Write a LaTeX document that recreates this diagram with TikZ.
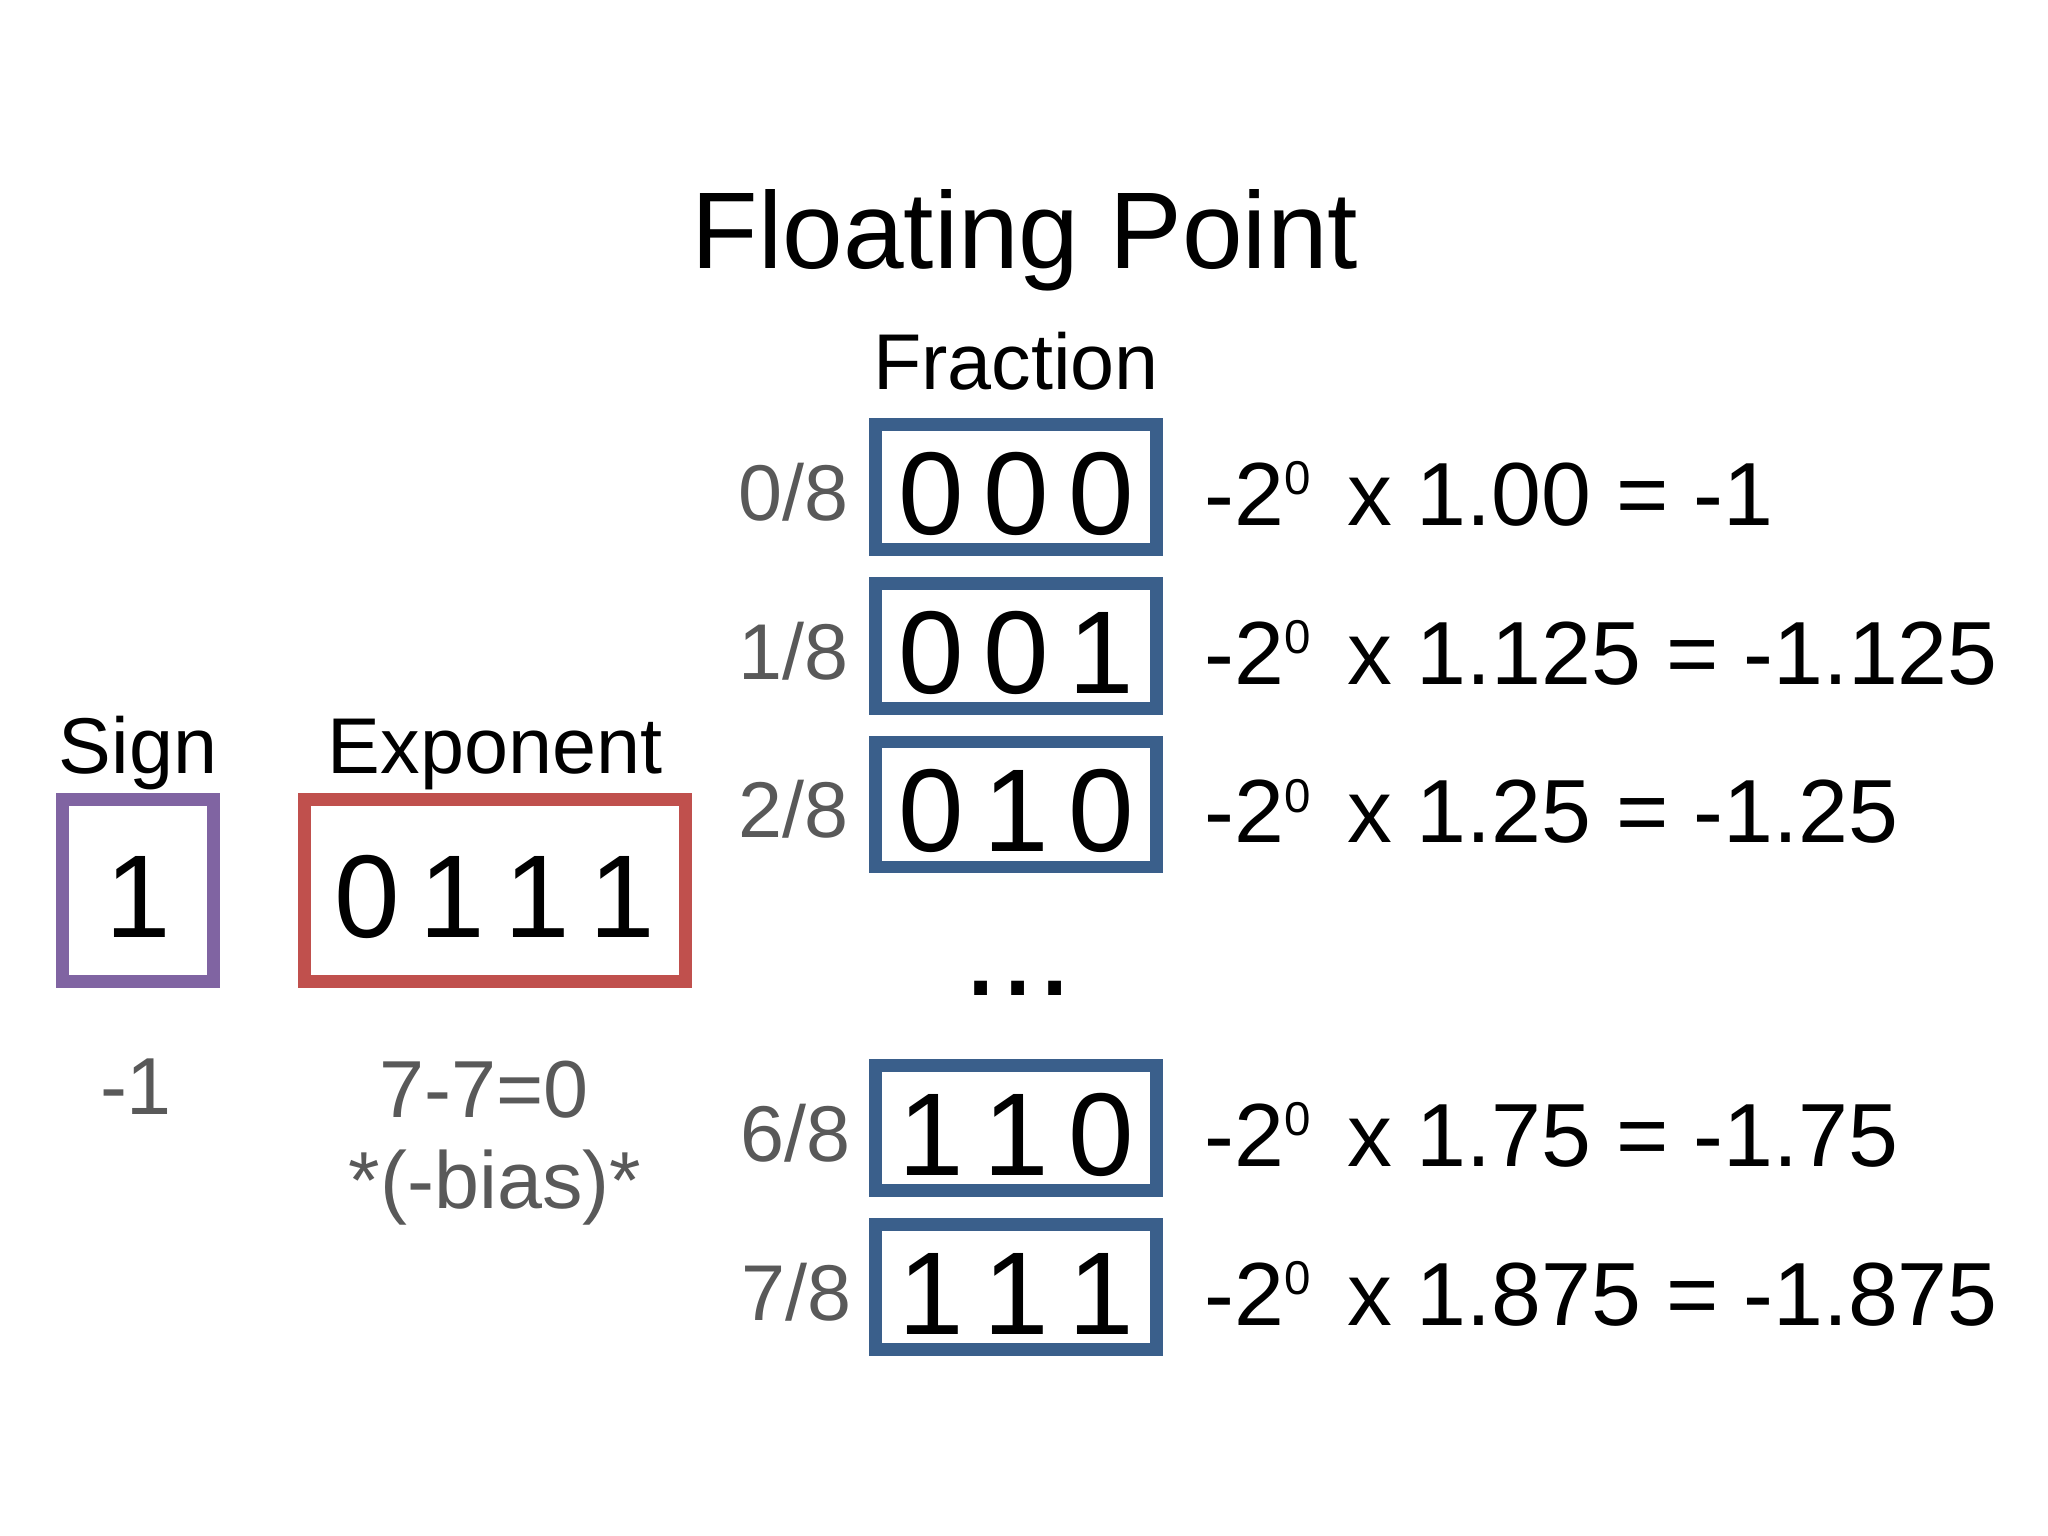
\documentclass[tikz,border=0pt]{standalone}
\usepackage{fontspec}
\setmainfont{Liberation Sans}
\definecolor{signpurple}{HTML}{8064A2}
\definecolor{expred}{HTML}{C0504D}
\definecolor{fracblue}{HTML}{3A5F8B}
\definecolor{valgray}{HTML}{595959}
\tikzset{
  bitbox/.style={draw, line width=3.6pt, inner sep=0pt, text height=26.8pt, text depth=0pt, font=\fontsize{33.5}{36}\selectfont},
  fracbox/.style={bitbox, draw=fracblue, minimum width=2.81cm, minimum height=1.25cm},
  headlabel/.style={anchor=base, font=\fontsize{22.5}{26}\selectfont},
  graylabel/.style={anchor=base, text=valgray, font=\fontsize{23}{27}\selectfont},
  fraclabel/.style={anchor=base east, text=valgray, font=\fontsize{22.5}{26}\selectfont},
  eqlabel/.style={anchor=base west, font=\fontsize{25.5}{30}\selectfont}
}
\newcommand{\supzero}{\raisebox{8.6pt}{\fontsize{13.5}{14}\selectfont 0}\hspace{3.3pt}}
\newcommand{\eqtext}[2]{-2\supzero{} x #1 = #2}
\newcommand{\bgap}{\hspace{5.5pt}}
\begin{document}
\begin{tikzpicture}[x=0.01cm,y=-0.01cm]
\useasboundingbox[fill=white] (0,0) rectangle (2048,1536);

\node[anchor=base, font=\fontsize{31}{36}\selectfont] (title) at (1025,268) {Floating Point};

% Sign and exponent
\node[headlabel] (signlbl) at (138,773) {Sign};
\node[headlabel] (explbl) at (495,773) {Exponent};
\node[bitbox, draw=signpurple, minimum width=1.51cm, minimum height=1.82cm] (signbox) at (138,890.5) {1};
\node[bitbox, draw=expred, minimum width=3.81cm, minimum height=1.82cm] (expbox) at (495,890.5) {0\bgap1\bgap1\bgap1};
\node[graylabel] (signval) at (136,1114) {-1};
\node[graylabel] (expval) at (484,1117) {7-7=0};
\node[graylabel] (biasval) at (495,1208) {*(-bias)*};

% Fraction
\node[headlabel] (fraclbl) at (1016,389) {Fraction};

\node[fracbox] (f0) at (1016,487) {0\bgap0\bgap0};
\node[fracbox] (f1) at (1016,646) {0\bgap0\bgap1};
\node[fracbox] (f2) at (1016,804.5) {0\bgap1\bgap0};
\node[fracbox] (f6) at (1016,1128) {1\bgap1\bgap0};
\node[fracbox] (f7) at (1016,1287) {1\bgap1\bgap1};

\node[fraclabel] (l0) at (861,520) {0/8};
\node[fraclabel] (l1) at (861,679) {1/8};
\node[fraclabel] (l2) at (861,837.5) {2/8};
\node[fraclabel] (l6) at (863,1161) {6/8};
\node[fraclabel] (l7) at (864,1320) {7/8};

\node[eqlabel] (e0) at (1192,525) {\eqtext{1.00}{-1}};
\node[eqlabel] (e1) at (1192,684) {\eqtext{1.125}{-1.125}};
\node[eqlabel] (e2) at (1192,842.5) {\eqtext{1.25}{-1.25}};
\node[eqlabel] (e6) at (1192,1166) {\eqtext{1.75}{-1.75}};
\node[eqlabel] (e7) at (1192,1325) {\eqtext{1.875}{-1.875}};

\node[anchor=base, font=\fontsize{38}{42}\selectfont] (dots) at (1018,995) {...};
\end{tikzpicture}
\end{document}
